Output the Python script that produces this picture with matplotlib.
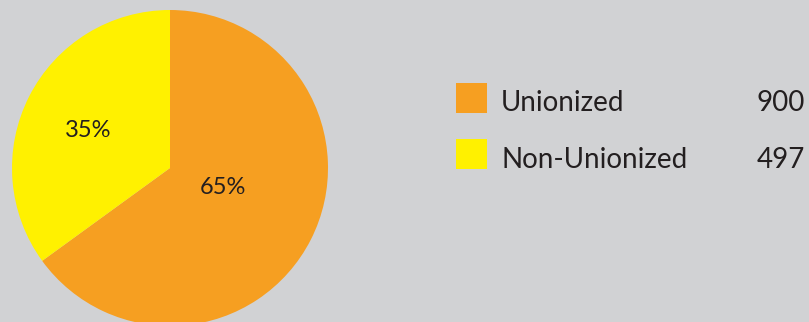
import matplotlib
matplotlib.use("Agg")
import matplotlib.pyplot as plt
from matplotlib.patches import Rectangle

# Data
categories = ["Unionized", "Non-Unionized"]
counts = [900, 497]
shares = [65, 35]  # percent shown on the pie
colors = ["#F69F21", "#FFF100"]
bg = "#D1D2D4"
txt = "#231F20"
font = "Lato"

W, H = 809, 322
fig = plt.figure(figsize=(W / 100, H / 100), dpi=100)
fig.patch.set_facecolor(bg)

# pie axes: centre (170, 168) px, radius 158 px
cx, cy, r = 170, 168, 158
ax = fig.add_axes([(cx - r) / W, (H - cy - r) / H, 2 * r / W, 2 * r / H])
ax.set_facecolor(bg)
wedges, _ = ax.pie(shares, colors=colors, startangle=90, counterclock=False,
                   radius=1, wedgeprops=dict(linewidth=0))
ax.set_xlim(-1, 1)
ax.set_ylim(-1, 1)
ax.set_aspect("equal")
ax.axis("off")

# percentage labels (centre x, baseline y in px)
label_pos = [(223, 194), (88, 137)]
for s, (lx, ly) in zip(shares, label_pos):
    ax.text((lx - cx) / r, (cy - ly) / r, f"{s}%", ha="center", va="baseline",
            fontsize=17, color=txt, family=font)

# legend
sq_top = [83, 139]
baselines = [111, 168]
for cat, c, col, t, b in zip(categories, counts, colors, sq_top, baselines):
    fig.add_artist(Rectangle((456 / W, (H - t - 30) / H), 31 / W, 30 / H,
                             transform=fig.transFigure, facecolor=col, edgecolor="none"))
    fig.text(501 / W, (H - b) / H, cat, ha="left", va="baseline",
             fontsize=20, color=txt, family=font)
    fig.text(757 / W, (H - b) / H, str(c), ha="left", va="baseline",
             fontsize=20, color=txt, family=font)

fig.savefig("out.png", dpi=100, facecolor=bg)
